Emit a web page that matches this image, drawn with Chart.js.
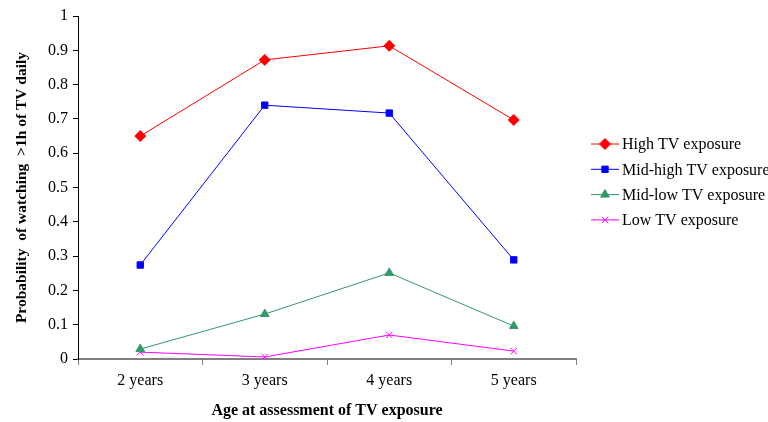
<!DOCTYPE html>
<html>
<head>
<meta charset="utf-8">
<script src="https://cdn.jsdelivr.net/npm/chart.js@4"></script>
<style>
  html, body { margin: 0; padding: 0; background: #fff; }
  #wrap { width: 768px; height: 422px; }
</style>
</head>
<body>
<div id="wrap"><canvas id="tvChart" width="768" height="422"></canvas></div>
<script>
// data
const ages = ["2 years", "3 years", "4 years", "5 years"];
const highTV = [0.650, 0.872, 0.913, 0.697];
const midHighTV = [0.274, 0.740, 0.717, 0.289];
const midLowTV = [0.029, 0.131, 0.251, 0.096];
const lowTV = [0.020, 0.006, 0.070, 0.023];
const yTicks = [0, 0.1, 0.2, 0.3, 0.4, 0.5, 0.6, 0.7, 0.8, 0.9, 1];

const serif = "'Liberation Serif', 'DejaVu Serif', serif";

// legend drawn by hand so each entry gets line + marker like the original
const sideLegend = {
	id: "sideLegend",
	afterDraw(chart){
		const ctx = chart.ctx;
		const x0 = 591, y0 = 144, step = 25.3;
		chart.data.datasets.forEach(function(ds, i){
			const y = y0 + i * step;
			ctx.save();
			ctx.strokeStyle = ds.borderColor;
			ctx.lineWidth = 1;
			ctx.beginPath();
			ctx.moveTo(x0, y);
			ctx.lineTo(x0 + 28, y);
			ctx.stroke();
			ctx.fillStyle = ds.pointBackgroundColor;
			ctx.strokeStyle = ds.pointBorderColor;
			Chart.helpers.drawPoint(ctx, {
				pointStyle: ds.pointStyle,
				radius: ds.pointRadius,
				borderWidth: 1
			}, x0 + 14, y);
			ctx.fillStyle = "#000";
			ctx.font = "16px " + serif;
			ctx.textBaseline = "middle";
			ctx.fillText(ds.label, x0 + 31, y + 1);
			ctx.restore();
		});
	}
};

function mk(label, data, color, style, r){
	return {
		label: label, data: data,
		borderColor: color, backgroundColor: color,
		pointBackgroundColor: color, pointBorderColor: color,
		pointStyle: style, pointRadius: r, pointHoverRadius: r,
		borderWidth: 1, pointBorderWidth: 1, tension: 0, fill: false
	};
}

function renderChart(){
	const ctx = document.querySelector('#tvChart').getContext('2d');
	new Chart(ctx, {
		type: "line",
		data: {
			labels: ages,
			datasets: [
				mk("High TV exposure", highTV, "#ff0000", "rectRot", 5.5),
				mk("Mid-high TV exposure", midHighTV, "#0000ff", "rect", 4.5),
				mk("Mid-low TV exposure", midLowTV, "#339966", "triangle", 5),
				mk("Low TV exposure", lowTV, "#ff00ff", "crossRot", 4.5)
			]
		},
		options: {
			responsive: false,
			animation: false,
			layout: { padding: { top: 16, right: 192, left: 0, bottom: 0 } },
			plugins: { legend: { display: false }, tooltip: { enabled: false } },
			scales: {
				x: {
					offset: true,
					afterFit: function(s){ s.height = 63; },
					grid: { drawOnChartArea: false, offset: true, tickLength: 6, color: "#808080" },
					border: { color: "#808080", width: 2 },
					ticks: { color: "#000", padding: 6, font: { family: serif, size: 16 } },
					title: {
						display: true, text: "Age at assessment of TV exposure", color: "#000",
						font: { family: serif, size: 16, weight: "bold" }, padding: { top: 8, bottom: 2 }
					}
				},
				y: {
					min: 0, max: 1,
					afterFit: function(s){ s.width = 78; },
					afterBuildTicks: function(s){ s.ticks = yTicks.map(function(v){ return { value: v }; }); },
					grid: { drawOnChartArea: false, tickLength: 5, color: "#000" },
					border: { color: "#000", width: 1 },
					ticks: { color: "#000", padding: 5, font: { family: serif, size: 16 },
						callback: function(v){ return String(v); } },
					title: {
						display: true, text: "Probability  of watching  >1h of TV daily", color: "#000",
						font: { family: serif, size: 15.5, weight: "bold" }, padding: { top: 13, bottom: 4 }
					}
				}
			}
		},
		plugins: [sideLegend]
	});
}

renderChart();
</script>
</body>
</html>
